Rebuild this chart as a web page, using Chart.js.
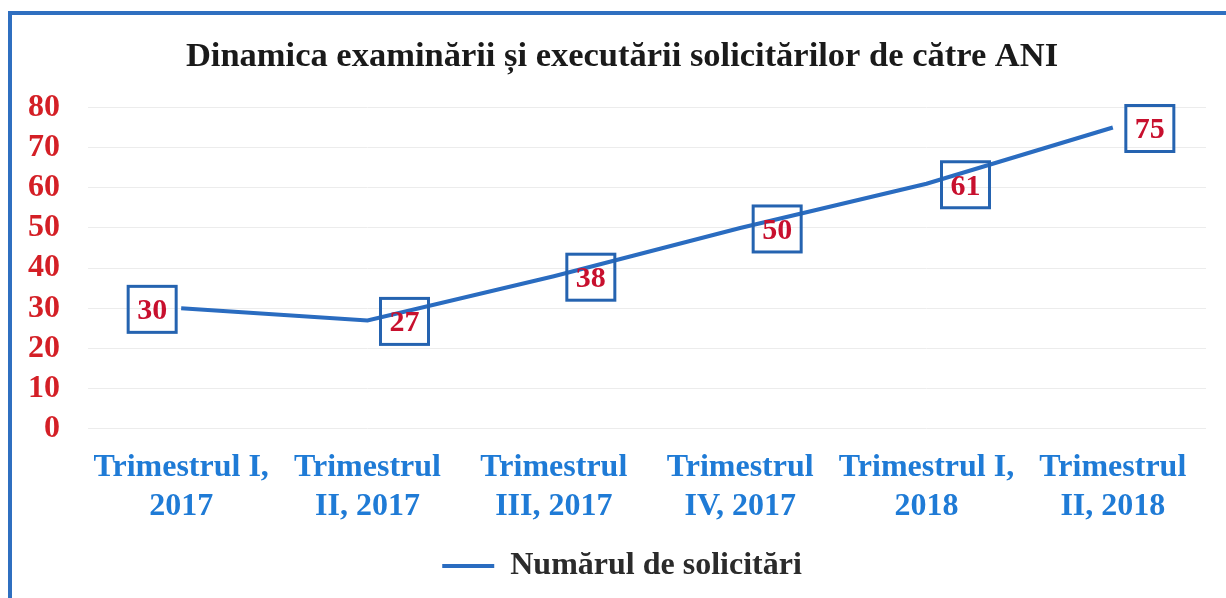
<!doctype html>
<html lang="ro">
<head>
    <meta charset="UTF-8" />
    <title>Dinamica examinării și executării solicitărilor</title>
    <style>
        body {
            margin: 0;
            background: #fff;
        }
        .frame {
            position: absolute;
            left: 8px;
            top: 11px;
            width: 1230px;
            height: 600px;
            border-left: 4px solid #2f6fc0;
            border-top: 4px solid #2f6fc0;
        }
        .chart-container {
            position: absolute;
            left: 0;
            top: 0;
            width: 1226px;
            height: 598px;
        }
    </style>
</head>
<body>
    <div class="frame"></div>
    <div class="chart-container">
        <canvas id="aniChart"></canvas>
    </div>

    <script src="https://cdn.jsdelivr.net/npm/chart.js"></script>
    <script>
        // data
        const quarters = [
            ['Trimestrul I,', '2017'],
            ['Trimestrul', 'II, 2017'],
            ['Trimestrul', 'III, 2017'],
            ['Trimestrul', 'IV, 2017'],
            ['Trimestrul I,', '2018'],
            ['Trimestrul', 'II, 2018']
        ];
        const requests = [30, 27, 38, 50, 61, 75];
        const yTicks = [0, 10, 20, 30, 40, 50, 60, 70, 80];

        const serif = "'Liberation Serif', 'Times New Roman', serif";

        // boxed value labels, drawn beside each point
        const boxLabels = {
            id: 'boxLabels',
            afterLayout(chart) {
                // let the y tick labels use the left margin without being clipped
                chart.scales.y.left = 0;
            },
            afterDatasetsDraw(chart) {
                const ctx = chart.ctx;
                const meta = chart.getDatasetMeta(0);
                const shift = [-29, 37, 37, 37, 39, 37];
                ctx.save();
                ctx.font = 'bold 30px ' + serif;
                ctx.textAlign = 'center';
                ctx.textBaseline = 'middle';
                meta.data.forEach((pt, i) => {
                    const cx = pt.x + shift[i];
                    const cy = pt.y + 1;
                    ctx.lineWidth = 3;
                    ctx.strokeStyle = '#2563b0';
                    ctx.strokeRect(cx - 24, cy - 23, 48, 46);
                    ctx.fillStyle = '#c8102e';
                    ctx.fillText(String(requests[i]), cx, cy + 2);
                });
                ctx.restore();
            }
        };

        const ctx = document.getElementById('aniChart').getContext('2d');

        new Chart(ctx, {
            type: 'line',
            data: {
                labels: quarters,
                datasets: [{
                    label: 'Numărul de solicitări',
                    data: requests,
                    borderColor: '#2a6cc0',
                    backgroundColor: '#2a6cc0',
                    borderWidth: 4,
                    pointRadius: 0,
                    tension: 0
                }]
            },
            options: {
                responsive: true,
                maintainAspectRatio: false,
                animation: false,
                layout: {
                    padding: { left: 38, right: 20, top: 20, bottom: 6 }
                },
                plugins: {
                    title: {
                        display: true,
                        text: 'Dinamica examinării și executării solicitărilor de către ANI',
                        color: '#1a1a1a',
                        font: { family: serif, size: 34.5, weight: 'bold' },
                        padding: { top: 16, bottom: 30 }
                    },
                    legend: {
                        position: 'bottom',
                        labels: {
                            usePointStyle: true,
                            pointStyle: 'line',
                            pointStyleWidth: 52,
                            color: '#2b2b2b',
                            font: { family: serif, size: 32, weight: 'bold' },
                            padding: 13
                        }
                    },
                    tooltip: { enabled: false }
                },
                scales: {
                    x: {
                        offset: true,
                        grid: { display: false },
                        border: { display: false },
                        ticks: {
                            color: '#1f7bd6',
                            font: { family: serif, size: 32, weight: 'bold', lineHeight: 1.22 },
                            maxRotation: 0,
                            autoSkip: false,
                            padding: 11
                        }
                    },
                    y: {
                        min: 0,
                        max: 80,
                        afterBuildTicks(scale) {
                            scale.ticks = yTicks.map(v => ({ value: v }));
                        },
                        afterFit(scale) {
                            scale.width = 50;
                        },
                        grid: { color: '#ececec', drawTicks: false },
                        border: { display: false },
                        ticks: {
                            color: '#d41f26',
                            font: { family: serif, size: 32, weight: 'bold' },
                            autoSkip: false,
                            padding: 28
                        }
                    }
                }
            },
            plugins: [boxLabels]
        });
    </script>
</body>
</html>
